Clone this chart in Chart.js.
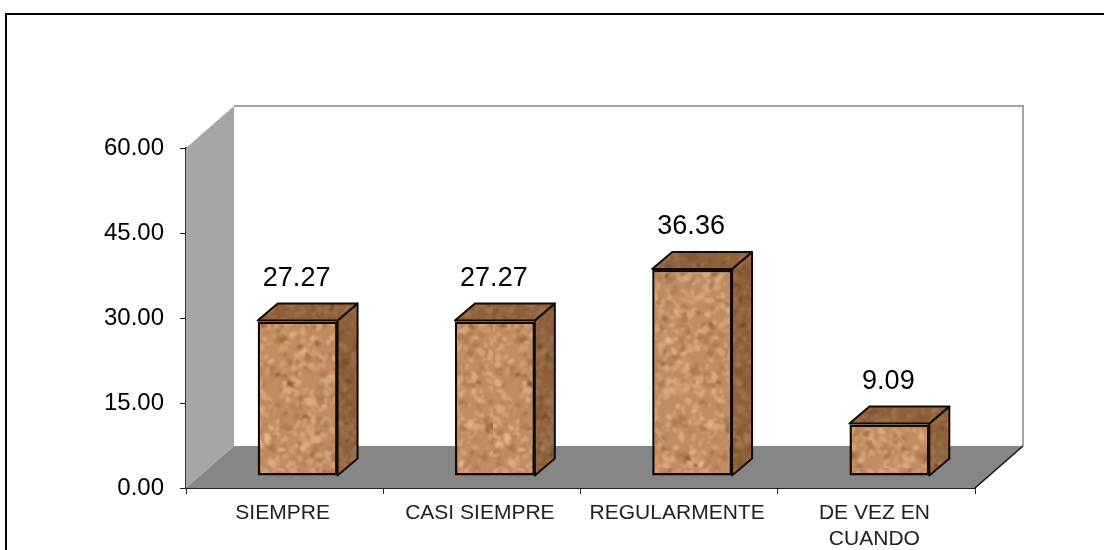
<!DOCTYPE html>
<html><head><meta charset="utf-8">
<style>html,body{margin:0;padding:0;background:#fff;overflow:hidden}
#f{position:absolute;left:5px;top:13px;width:1200px;height:600px;border:2px solid #000;box-sizing:border-box}
#w{position:absolute;left:0;top:0;width:1104px;height:550px}</style>
<script src="https://cdn.jsdelivr.net/npm/chart.js@4"></script>
</head><body><div id="f"></div><div id="w"><canvas id="c" width="1104" height="550"></canvas></div>
<script>
const categories = [["SIEMPRE"],["CASI SIEMPRE"],["REGULARMENTE"],["DE VEZ EN","CUANDO"]];
const values = [27.27,27.27,36.36,9.09];
const valueLabels = ["27.27","27.27","36.36","9.09"];

function cork(shade){
  const s=document.createElement('canvas');s.width=s.height=240;
  const x=s.getContext('2d');x.fillStyle='#c08c60';x.fillRect(0,0,240,240);
  x.filter='blur(1px)';
  let seed=98765;const r=()=>(seed=(seed*1103515245+12345)&0x7fffffff)/0x7fffffff;
  const cols=['#dcae82','#a87448','#d6a274','#e6bc92','#b07c50','#8f5c32','#74461f'];
  for(let i=0;i<1900;i++){
    x.fillStyle=cols[Math.floor(r()*r()*7)];
    x.globalAlpha=.7;
    x.beginPath();x.ellipse(r()*240,r()*240,1+r()*3.8,1+r()*2.6,r()*3,0,7);x.fill();
  }
  x.filter='none';x.globalAlpha=1;
  if(shade){x.fillStyle='rgba(60,25,0,'+shade+')';x.fillRect(0,0,240,240);}
  return s;
}
const ctx0=document.getElementById('c').getContext('2d');
const front=ctx0.createPattern(cork(0),'repeat');
const dark=ctx0.createPattern(cork(.38),'repeat');
const WD=48,HD=42,BX=13,BY=12,DX=20,DY=17,EDGE='#140a03';

const scene={id:'scene',
  beforeDatasetsDraw(ch){
    const {ctx,chartArea:a}=ch;
    const poly=(p,f)=>{ctx.beginPath();p.forEach((q,i)=>i?ctx.lineTo(q[0],q[1]):ctx.moveTo(q[0],q[1]));ctx.closePath();ctx.fillStyle=f;ctx.fill();};
    ctx.save();
    poly([[a.left,a.top],[a.left+WD,a.top-HD],[a.left+WD,a.bottom-HD],[a.left,a.bottom]],'#a6a6a6');
    poly([[a.left,a.bottom],[a.left+WD,a.bottom-HD],[a.right+WD,a.bottom-HD],[a.right,a.bottom]],'#868686');
    ctx.strokeStyle='#a3a3a3';ctx.lineWidth=2;
    ctx.beginPath();ctx.moveTo(a.left+WD,a.top-HD);ctx.lineTo(a.right+WD,a.top-HD);ctx.lineTo(a.right+WD,a.bottom-HD);ctx.stroke();
    ctx.strokeStyle='#111';ctx.lineWidth=1.5;
    ctx.beginPath();ctx.moveTo(a.right,a.bottom);ctx.lineTo(a.right+WD,a.bottom-HD);ctx.stroke();
    ctx.restore();
  },
  beforeDatasetDraw(ch){
    const {ctx}=ch;ctx.save();ctx.translate(BX,-BY);
    ctx.lineJoin='round';
    ch.getDatasetMeta(0).data.forEach(b=>{
      const l=b.x-b.width/2,r=b.x+b.width/2,t=b.y-1,e=b.base;
      ctx.fillStyle=dark;ctx.strokeStyle=EDGE;ctx.lineWidth=2;
      ctx.beginPath();ctx.moveTo(r,t);ctx.lineTo(r+DX,t-DY);ctx.lineTo(r+DX,e-DY);ctx.lineTo(r,e);ctx.closePath();ctx.fill();ctx.stroke();
      ctx.beginPath();ctx.moveTo(l,t);ctx.lineTo(l+DX,t-DY);ctx.lineTo(r+DX,t-DY);ctx.lineTo(r,t);ctx.closePath();ctx.fill();ctx.stroke();
    });
  },
  afterDatasetDraw(ch){
    const {ctx}=ch;
    ctx.fillStyle='#000';ctx.font='27px "Liberation Sans"';ctx.textAlign='center';ctx.textBaseline='middle';
    ch.getDatasetMeta(0).data.forEach((b,i)=>ctx.fillText(valueLabels[i],b.x-1,b.y-43));
    ctx.restore();
  }
};

new Chart(ctx0,{type:'bar',plugins:[scene],
  data:{labels:categories,datasets:[{data:values,backgroundColor:front,borderColor:EDGE,borderWidth:2.5,borderSkipped:false,barPercentage:.405,categoryPercentage:1}]},
  options:{responsive:false,animation:false,
    layout:{padding:{top:148,right:129,left:0,bottom:0}},
    plugins:{legend:{display:false},tooltip:{enabled:false}},
    scales:{
      x:{afterFit(s){s.height=62},
        border:{color:'#222',width:2},
        grid:{drawOnChartArea:false,drawTicks:true,tickLength:6,color:'#222',offset:true},
        ticks:{color:'#222',font:{family:'"Liberation Sans"',size:21,lineHeight:1.2},padding:7,maxRotation:0,autoSkip:false,labelOffset:-2}},
      y:{min:0,max:60,afterFit(s){s.width=186},
        border:{color:'#333',width:2},
        grid:{drawOnChartArea:false,drawTicks:true,tickLength:6,color:'#222'},
        afterBuildTicks(s){s.ticks=[0,15,30,45,60].map(v=>({value:v}))},
        ticks:{color:'#000',font:{family:'"Liberation Sans"',size:24},padding:16,callback:v=>v.toFixed(2)}}
    }}});
</script></body></html>
